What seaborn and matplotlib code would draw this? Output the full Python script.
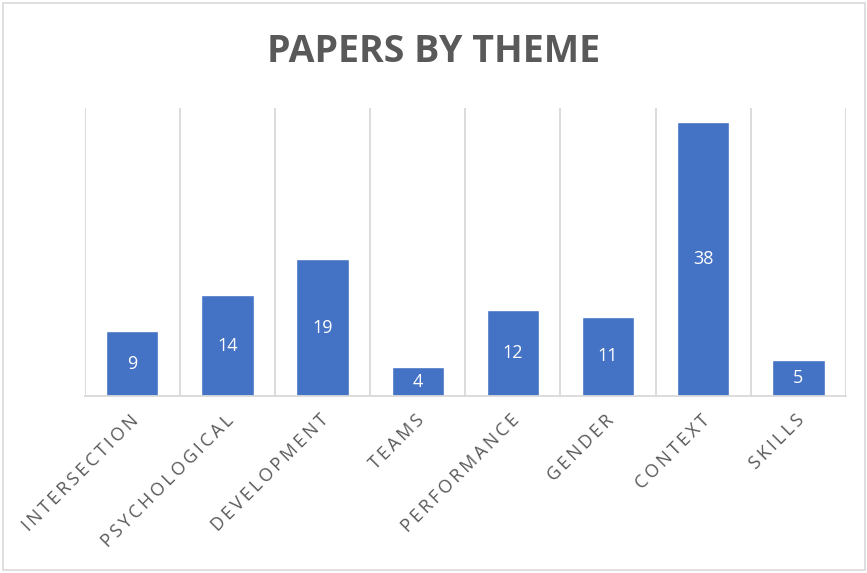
import matplotlib
matplotlib.use("Agg")
import matplotlib.pyplot as plt
import seaborn as sns
import pandas as pd
from matplotlib.patches import Rectangle

categories = ["INTERSECTION", "PSYCHOLOGICAL", "DEVELOPMENT", "TEAMS",
              "PERFORMANCE", "GENDER", "CONTEXT", "SKILLS"]
values = [9, 14, 19, 4, 12, 11, 38, 5]
title = "PAPERS BY THEME"

sns.set_theme(style="white")
plt.rcParams['font.family'] = ['Open Sans', 'DejaVu Sans']

df = pd.DataFrame({"theme": categories, "papers": values})

fig = plt.figure(figsize=(8.67, 5.73), dpi=100)
ax = fig.add_axes([84.6/867, 1-396/573, (846-84.6)/867, (396-108)/573])

sns.barplot(data=df, x="theme", y="papers", color="#4472C4", width=0.55,
            saturation=1, ax=ax)

ax.set_xlim(-0.5, len(categories)-0.5)
ax.set_ylim(0, 40)
ax.set_xlabel("")
ax.set_ylabel("")
ax.set_yticks([])

# category separators
for b in [i - 0.5 for i in range(len(categories)+1)]:
    ax.axvline(b, color="#D9D9D9", lw=1.3, zorder=0)
for s in ["left", "right", "top"]:
    ax.spines[s].set_visible(False)
ax.spines["bottom"].set_color("#D9D9D9")
ax.spines["bottom"].set_linewidth(1.3)

ax.set_xticks(range(len(categories)))
spaced = ["\u2009".join(list(c)) for c in categories]
ax.set_xticklabels(spaced, rotation=45, ha="right", rotation_mode="anchor",
                   fontsize=13, color="#595959")
ax.tick_params(axis="x", length=0, pad=11)
for lab in ax.get_xticklabels():
    lab.set_transform(lab.get_transform() + matplotlib.transforms.ScaledTranslation(-3/100, 0, fig.dpi_scale_trans))

ax.bar_label(ax.containers[0], label_type="center", color="white", fontsize=13)

fig.text(0.5, 1-52/573, title, ha="center", va="center", fontsize=27,
         fontweight="bold", color="#595959")

fig.patches.append(Rectangle((3/867, 3/573), 862/867, 567/573, transform=fig.transFigure,
                             fill=False, edgecolor="#D9D9D9", lw=1.2))

fig.savefig("out.png", dpi=100, facecolor="white")
